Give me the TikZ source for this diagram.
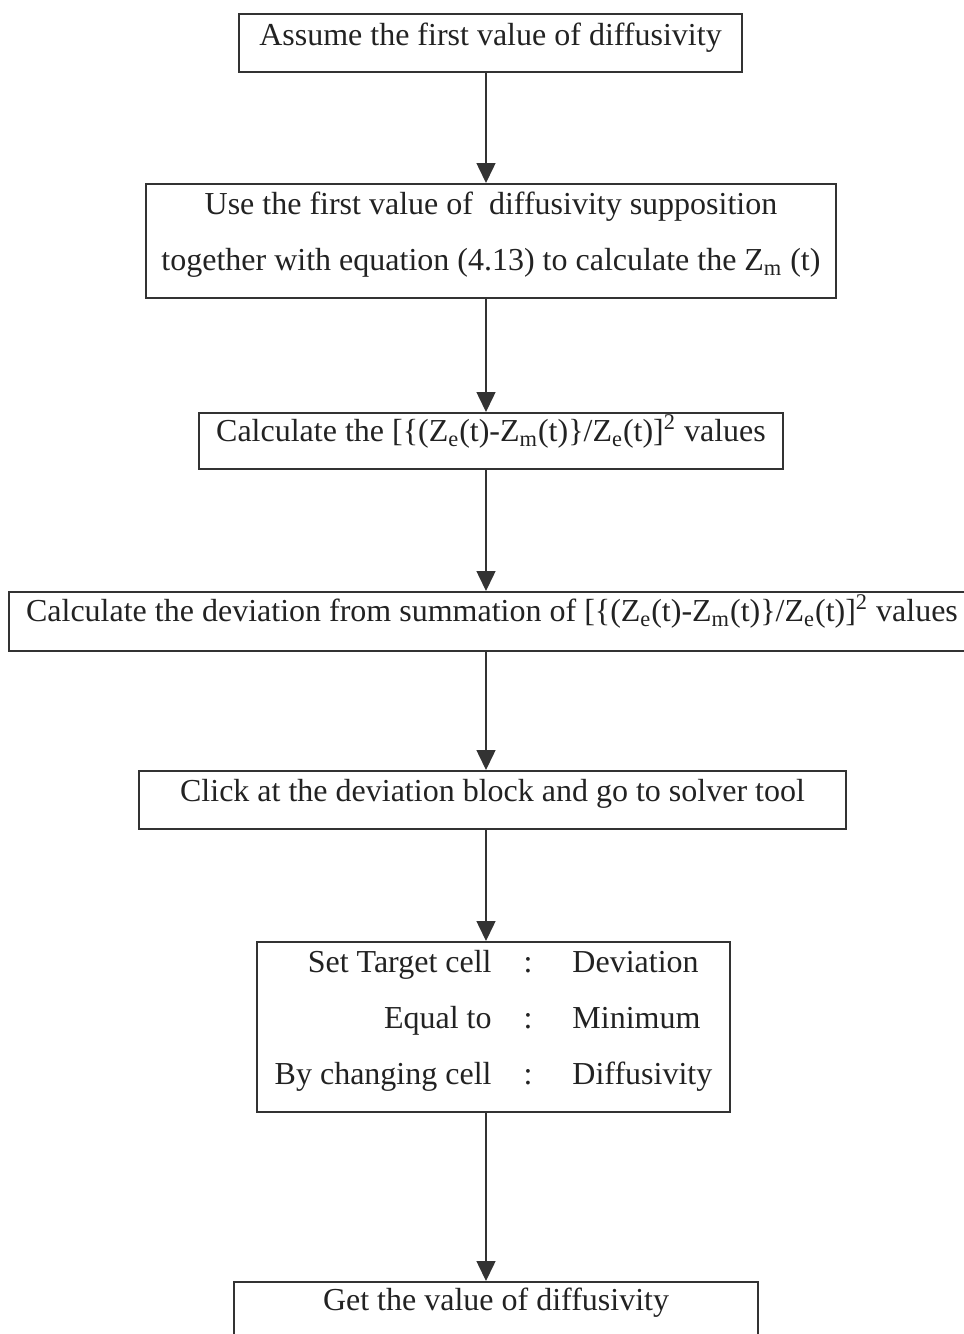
\documentclass[tikz,border=0pt]{standalone}
\usepackage{fontspec}
\setmainfont{Liberation Serif}
\usetikzlibrary{arrows.meta}
\definecolor{boxgray}{HTML}{333333}
\definecolor{textgray}{HTML}{222222}
\tikzset{
  stepbox/.style={draw=boxgray, line width=0.75pt, inner ysep=0pt, anchor=north,
    font=\fontsize{16}{28}\selectfont, text=textgray},
  flow/.style={draw=boxgray, line width=0.75pt, -{Triangle[length=10pt,width=9.5pt]}},
}
\begin{document}
\begin{tikzpicture}[x=0.5pt,y=-0.5pt]
  \useasboundingbox (0,0) rectangle (964,1334);
  \coordinate (axis) at (486,0);
  \node[stepbox, minimum width=251.5pt, text height=16pt, text depth=13pt] (assume) at (490.5,13)
    {Assume the first value of diffusivity};
  \node[stepbox, minimum width=345pt, text height=15.5pt, text depth=41.5pt] (usefirst) at (491,183)
    {\begin{tabular}[t]{@{}c@{}}Use the first value of\ \ diffusivity supposition\\
     together with equation (4.13) to calculate the Z\textsubscript{m} (t)\end{tabular}};
  \node[stepbox, minimum width=292pt, text height=14.5pt, text depth=13.5pt] (squares) at (491,412)
    {Calculate the [\{(Z\textsubscript{e}(t)-Z\textsubscript{m}(t)\}/Z\textsubscript{e}(t)]\textsuperscript{2} values};
  \node[stepbox, minimum width=483pt, text height=15pt, text depth=14.5pt] (deviation) at (492,591)
    {Calculate the deviation from summation of [\{(Z\textsubscript{e}(t)-Z\textsubscript{m}(t)\}/Z\textsubscript{e}(t)]\textsuperscript{2} values};
  \node[stepbox, minimum width=353.5pt, text height=15.5pt, text depth=13.5pt] (click) at (492.5,770)
    {Click at the deviation block and go to solver tool};
  \node[stepbox, minimum width=236.5pt, text height=15.5pt, text depth=69.5pt] (solver) at (493.5,941)
    {\begin{tabular}[t]{@{}r@{\hspace{16pt}}c@{\hspace{20pt}}l@{}}
     Set Target cell & : & Deviation\\
     Equal to & : & Minimum\\
     By changing cell & : & Diffusivity\end{tabular}};
  \node[stepbox, minimum width=262pt, text height=14.5pt, text depth=20pt] (result) at (496,1281)
    {Get the value of diffusivity};
  \draw[flow] (assume.south -| axis) -- (usefirst.north -| axis);
  \draw[flow] (usefirst.south -| axis) -- (squares.north -| axis);
  \draw[flow] (squares.south -| axis) -- (deviation.north -| axis);
  \draw[flow] (deviation.south -| axis) -- (click.north -| axis);
  \draw[flow] (click.south -| axis) -- (solver.north -| axis);
  \draw[flow] (solver.south -| axis) -- (result.north -| axis);
\end{tikzpicture}
\end{document}
